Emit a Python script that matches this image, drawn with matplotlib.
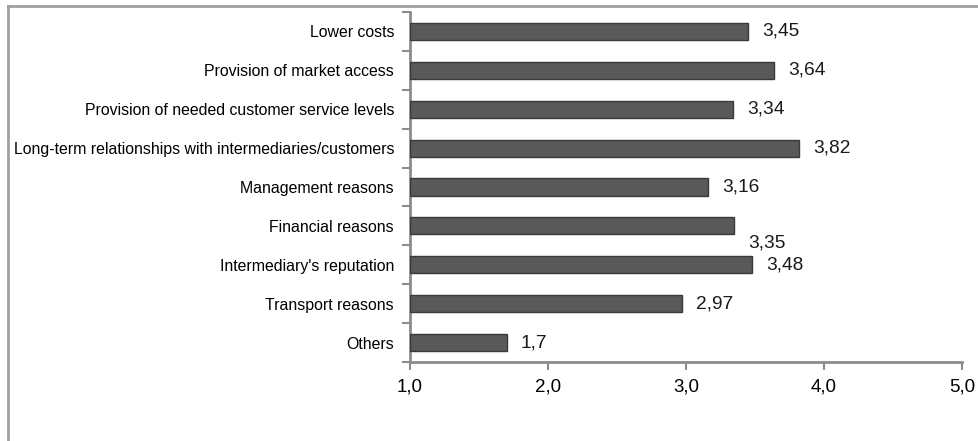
import matplotlib
matplotlib.use("Agg")
import matplotlib.pyplot as plt
from matplotlib.lines import Line2D

plt.rcParams['font.family'] = ['Liberation Sans', 'DejaVu Sans']

categories = [
    "Lower costs",
    "Provision of market access",
    "Provision of needed customer service levels",
    "Long-term relationships with intermediaries/customers",
    "Management reasons",
    "Financial reasons",
    "Intermediary's reputation",
    "Transport reasons",
    "Others",
]
values = [3.45, 3.64, 3.34, 3.82, 3.16, 3.35, 3.48, 2.97, 1.7]
value_labels = ["3,45", "3,64", "3,34", "3,82", "3,16", "3,35", "3,48", "2,97", "1,7"]
xticks = [1.0, 2.0, 3.0, 4.0, 5.0]
xtick_labels = ["1,0", "2,0", "3,0", "4,0", "5,0"]

W, H = 979, 441
fig = plt.figure(figsize=(W / 100, H / 100), dpi=100)
ax = fig.add_axes([410 / W, 1 - 362 / H, (962 - 410) / W, (362 - 12) / H])

axis_col = "#8c8c8c"
n = len(categories)
pos = list(range(n))
ax.barh(pos, [v - 1.0 for v in values], left=1.0, height=0.44,
        color="#595959", edgecolor="#3a3a3a", linewidth=1.0, zorder=3)

ax.set_xlim(1.0, 5.0)
ax.set_ylim(n - 0.5, -0.5)

ax.set_xticks(xticks)
ax.set_xticklabels(xtick_labels, fontsize=13.5)
ax.set_yticks(pos)
ax.set_yticklabels(categories, fontsize=11.4)
ax.tick_params(axis='y', length=0, pad=11.5)
ax.set_yticks([p - 0.5 for p in pos] + [n - 0.5], minor=True)
ax.tick_params(axis='y', which='minor', length=6, width=1.5, color=axis_col)
ax.tick_params(axis='x', length=6, width=1.5, color=axis_col, pad=6)

for s in ["top", "right"]:
    ax.spines[s].set_visible(False)
for s in ["left", "bottom"]:
    ax.spines[s].set_color(axis_col)
    ax.spines[s].set_linewidth(2)

for i, (v, lab) in enumerate(zip(values, value_labels)):
    dy = 12 if lab == "3,35" else 0
    ax.annotate(lab, xy=(v, i), xytext=(10, -dy), textcoords="offset points",
                ha="left", va="center", fontsize=13.8, color="#1a1a1a")

# outer frame (top and left edges)
frame_col = "#a0a0a0"
fig.add_artist(Line2D([8.5 / W, 8.5 / W], [0, 1 - 5.5 / H], transform=fig.transFigure,
                      color=frame_col, linewidth=2))
fig.add_artist(Line2D([8.5 / W, 977.5 / W], [1 - 5.5 / H, 1 - 5.5 / H], transform=fig.transFigure,
                      color=frame_col, linewidth=2))

fig.savefig("out.png", dpi=100, facecolor="white")
